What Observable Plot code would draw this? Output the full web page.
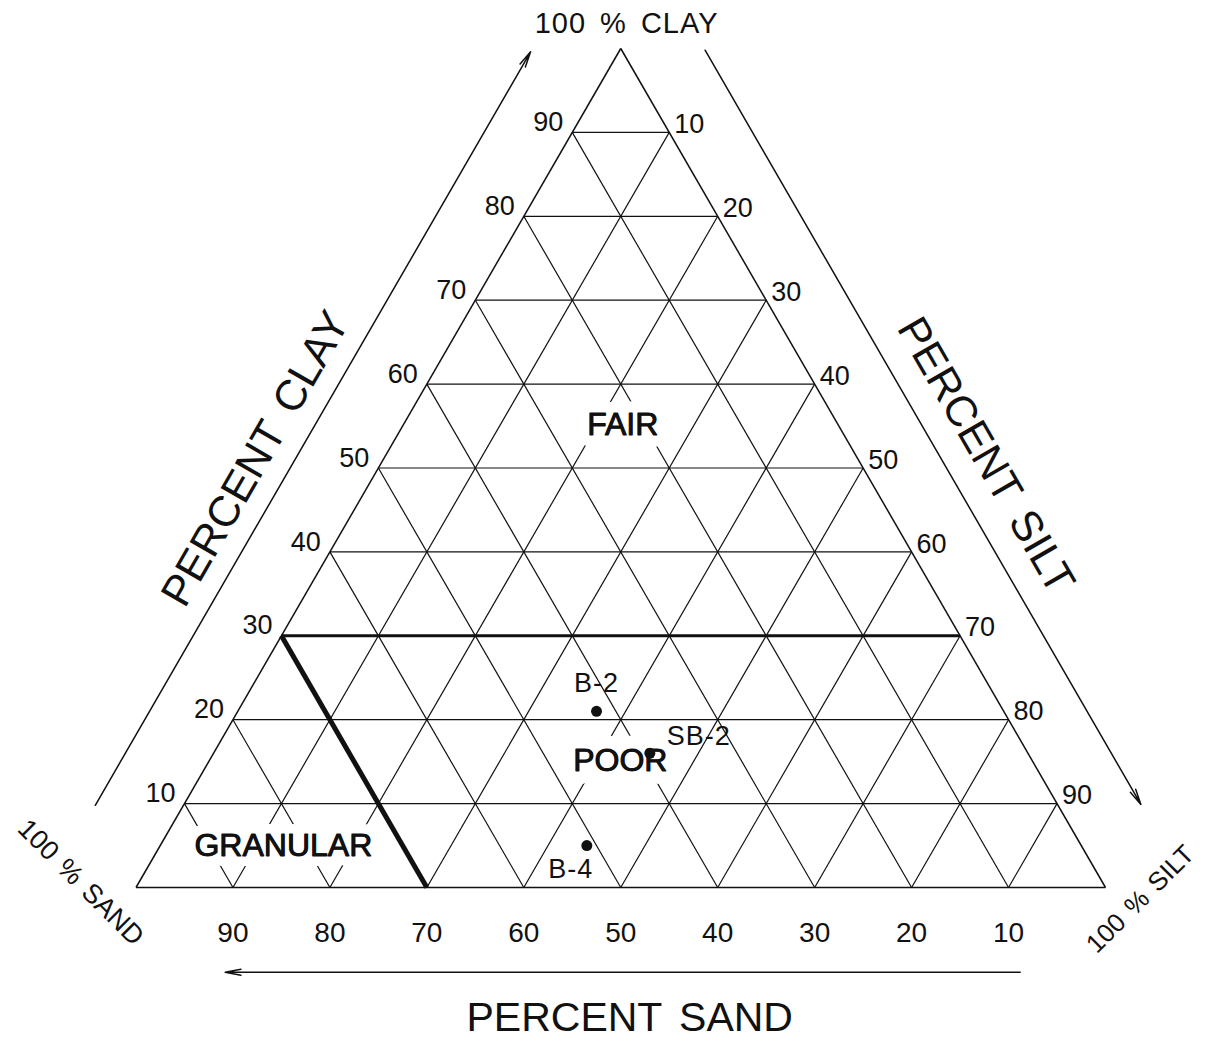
<!DOCTYPE html>
<html>
<head>
<meta charset="utf-8">
<script src="https://cdn.jsdelivr.net/npm/d3@7"></script>
<script src="https://cdn.jsdelivr.net/npm/@observablehq/plot@0.6"></script>
<style>
  html, body { margin: 0; padding: 0; background: #fff; }
  #chart svg { display: block; }
</style>
</head>
<body>
<div id="chart"></div>
<script>
// ---------------- data ----------------
const gridLevels = [10, 20, 30, 40, 50, 60, 70, 80, 90];
const clayTickLabels = [10, 20, 30, 40, 50, 60, 70, 80, 90];   // left side
const siltTickLabels = [10, 20, 30, 40, 50, 60, 70, 80, 90];   // right side
const sandTickLabels = [90, 80, 70, 60, 50, 40, 30, 20, 10];   // bottom

const zoneNames = ["FAIR", "POOR", "GRANULAR"];
const zoneClay  = [55.2, 15.1, 5.0];
const zoneSilt  = [22.6, 42.4, 12.7];

// boundary lines (clay %, silt %) end points
const boundaryNames    = ["clay = 30 %", "sand = 70 %"];
const boundaryFromClay = [30, 30];
const boundaryFromSilt = [0, 0];
const boundaryToClay   = [30, 0];
const boundaryToSilt   = [70, 30];

// samples (percent clay / silt / sand)
const sampleIds  = ["B-2", "SB-2", "B-4"];
const sampleClay = [21, 16, 5];
const sampleSilt = [37, 45, 44];
const sampleSand = [42, 39, 51];

const axisTitles   = ["PERCENT CLAY", "PERCENT SILT", "PERCENT SAND"];
const cornerTitles = ["100 % CLAY", "100 % SAND", "100 % SILT"];

// ---------------- geometry helpers (ternary -> cartesian data units) ----------------
const SQ = Math.sqrt(3) / 2;
const tx = (clay, silt) => silt + clay / 2;
const ty = (clay) => clay * SQ;
const seg = (a, b) => ({x1: tx(a[0], a[1]), y1: ty(a[0]), x2: tx(b[0], b[1]), y2: ty(b[0])});

const gridSegs = [];
for (const v of gridLevels) {
  gridSegs.push(seg([v, 0], [v, 100 - v]));          // constant clay
  gridSegs.push(seg([0, v], [100 - v, v]));          // constant silt
  gridSegs.push(seg([0, 100 - v], [100 - v, 0]));    // constant sand
}
const edges = [seg([0, 0], [0, 100]), seg([0, 0], [100, 0]), seg([0, 100], [100, 0])];

const boundaries = boundaryNames.map((name, i) => ({name,
  ...seg([boundaryFromClay[i], boundaryFromSilt[i]], [boundaryToClay[i], boundaryToSilt[i]])}));

const zones = zoneNames.map((name, i) => ({name, x: tx(zoneClay[i], zoneSilt[i]), y: ty(zoneClay[i])}));
const samples = sampleIds.map((id, i) => ({id, clay: sampleClay[i], silt: sampleSilt[i], sand: sampleSand[i],
  x: tx(sampleClay[i], sampleSilt[i]), y: ty(sampleClay[i])}));

// ---------------- layout / style ----------------
const FONT = "'Liberation Sans', Arial, Helvetica, sans-serif";
const INK = "#111";
const offL = 9.1, offR = 8.6, offB = 10.1;   // distance of the arrow lines from the triangle (percent units)
const arrows = [
  seg([9.8, -offL], [99.6, -offL]),
  seg([99.8, 100 - 99.8 + offR], [9.9, 100 - 9.9 + offR]),
  seg([-offB, 96.25], [-offB, 14.25])
];
const haloWidth = {"FAIR": 23, "POOR": 27, "GRANULAR": 20};
const labelNudge = {"B-2": {dx: 0, dy: -28, anchor: "middle"},
                    "SB-2": {dx: 17, dy: -17, anchor: "start"},
                    "B-4": {dx: -16, dy: 24, anchor: "middle"}};
const titlePos = [
  {text: axisTitles[0], x: tx(51.1, -13.2), y: ty(51.1), rotate: -60, size: 43},
  {text: axisTitles[1], x: tx(51.5, 61.9), y: ty(51.5), rotate: 60, size: 43},
  {text: axisTitles[2], x: tx(-15.55, 58.7), y: ty(-15.55), rotate: 0, size: 41},
  {text: cornerTitles[0], x: tx(102.9, -0.85), y: ty(102.9), rotate: 0, size: 29},
  {text: cornerTitles[1], x: tx(0.6, -6.0), y: ty(0.6), rotate: 45, size: 27},
  {text: cornerTitles[2], x: tx(-1.4, 104.3), y: ty(-1.4), rotate: -45, size: 26}
];

const marks = [
  Plot.link(gridSegs, {x1: "x1", y1: "y1", x2: "x2", y2: "y2", stroke: INK, strokeWidth: 1.2}),
  // white halo that interrupts the grid behind the zone names
  ...zones.map(z => Plot.text([z], {x: "x", y: "y", text: "name", fontSize: 32, fill: INK,
      stroke: "white", strokeWidth: haloWidth[z.name], paintOrder: "stroke", strokeLinejoin: "round"})),
  // slightly heavier lettering for zone names
  Plot.text(zones, {x: "x", y: "y", text: "name", fontSize: 32, fill: INK, stroke: INK, strokeWidth: 0.9}),
  Plot.link(edges, {x1: "x1", y1: "y1", x2: "x2", y2: "y2", stroke: INK, strokeWidth: 1.5}),
  Plot.link(boundaries.slice(0, 1), {x1: "x1", y1: "y1", x2: "x2", y2: "y2", stroke: INK, strokeWidth: 3}),
  Plot.link(boundaries.slice(1, 2), {x1: "x1", y1: "y1", x2: "x2", y2: "y2", stroke: INK, strokeWidth: 5}),
  Plot.text(clayTickLabels, {x: c => tx(c, 0), y: c => ty(c), text: d => String(d),
      textAnchor: "end", dx: -9, dy: -10, fontSize: 27, fill: INK}),
  Plot.text(siltTickLabels, {x: s => tx(100 - s, s), y: s => ty(100 - s), text: d => String(d),
      textAnchor: "start", dx: 5, dy: -8, fontSize: 27, fill: INK}),
  Plot.text(sandTickLabels, {x: s => tx(0, 100 - s), y: s => ty(0), text: d => String(d),
      dy: 46, fontSize: 28, fill: INK}),
  Plot.arrow(arrows, {x1: "x1", y1: "y1", x2: "x2", y2: "y2", stroke: INK, strokeWidth: 1.5,
      headLength: 16, headAngle: 22}),
  ...titlePos.map(t => Plot.text([t], {x: "x", y: "y", text: "text", rotate: t.rotate,
      fontSize: t.size, fill: INK})),
  Plot.dot(samples, {x: "x", y: "y", r: 5.5, fill: INK, stroke: "none"}),
  ...samples.map(s => Plot.text([s], {x: "x", y: "y", text: "id", dx: labelNudge[s.id].dx,
      dy: labelNudge[s.id].dy, textAnchor: labelNudge[s.id].anchor, fontSize: 27, fill: INK}))
];

const chart = Plot.plot({
  width: 1210,
  height: 1040,
  marginLeft: 135.5,
  marginRight: 105,
  marginTop: 48,
  marginBottom: 153,
  x: {domain: [0, 100], axis: null},
  y: {domain: [0, 100 * SQ], axis: null},
  style: {fontFamily: FONT, background: "white", color: INK},
  marks
});

// word spacing like the drafted lettering of the original
d3.select(chart).selectAll("text").each(function () {
  const t = this.textContent;
  if (t === cornerTitles[0]) { this.style.letterSpacing = "1px"; this.style.wordSpacing = "5px"; }
  else if (cornerTitles.includes(t)) { this.style.wordSpacing = "3px"; }
  else if (axisTitles.includes(t)) { this.style.wordSpacing = "6px"; }
  else if (sampleIds.includes(t)) { this.style.letterSpacing = "1px"; }
});

document.getElementById("chart").appendChild(chart);
</script>
</body>
</html>
